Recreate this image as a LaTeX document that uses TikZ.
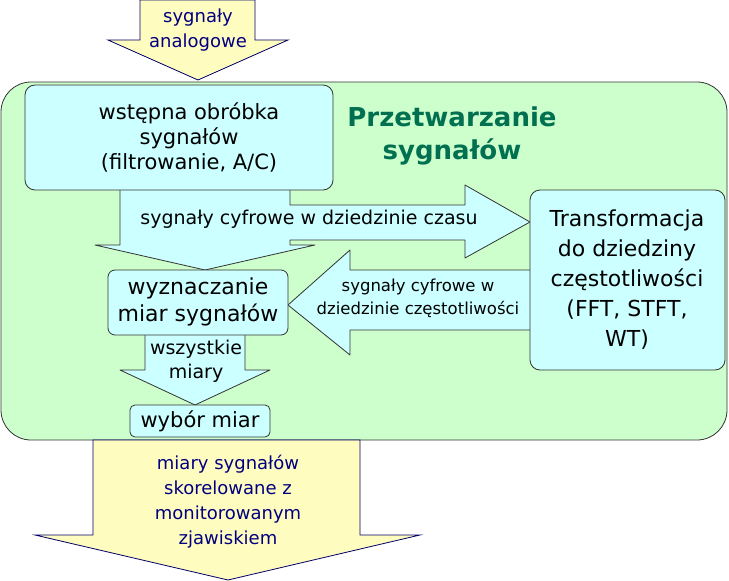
\documentclass[tikz,border=0pt]{standalone}
\usepackage{fontspec}
\setmainfont{DejaVu Sans}
\begin{document}
\begin{tikzpicture}[x=1pt,y=-1pt,
  box/.style={draw=black!80,fill=cyanf,rounded corners=10pt,line width=0.8pt},
  arr/.style={draw=black!80,fill=cyanf,line width=0.8pt,line join=round},
  yarr/.style={draw=blue!40!black,fill=yellow!25,line width=0.8pt},
  txt/.style={align=center,font=\fontsize{21}{25}\selectfont},
  btxt/.style={align=center,font=\fontsize{18}{25}\selectfont,text=blue!50!black},
  stxt/.style={align=center,font=\fontsize{19}{24}\selectfont}]
\definecolor{bg}{HTML}{CCFFCC}
\definecolor{cyanf}{HTML}{CCFFFF}
\definecolor{ttl}{HTML}{007050}
\useasboundingbox (0,0) rectangle (729,581);
% green panel
\draw[fill=bg,draw=black!80,line width=0.8pt,rounded corners=30pt] (1,82) rectangle (727,440);
% top arrow
\draw[yarr] (140,0)--(255,0)--(255,40)--(288,40)--(198,80)--(108,40)--(140,40)--cycle;
\node[btxt] (ta) at (198,30) {sygnały\\analogowe};
% bottom arrow
\draw[yarr] (93,440)--(360,440)--(360,535)--(420,535)--(228,580)--(35,535)--(93,535)--cycle;
\node[btxt] (ba) at (228,502) {miary sygnałów\\skorelowane z\\monitorowanym\\zjawiskiem};
% composite arrow
\draw[arr] (120,185)--(290,185)--(290,205)--(465,205)--(465,185)--(530,222)--(465,258)--(465,240)--(290,240)--(290,245)--(315,245)--(205,270)--(95,245)--(120,245)--cycle;
\node[stxt] (ct) at (309,219) {sygnały cyfrowe w dziedzinie czasu};
% left arrow
\draw[arr] (535,270)--(350,270)--(350,250)--(288,305)--(350,355)--(350,330)--(535,330)--cycle;
\node[align=center,font=\fontsize{16.5}{23}\selectfont] (ft) at (418,298) {sygnały cyfrowe w\\dziedzinie częstotliwości};
% down arrow
\draw[arr] (145,330)--(245,330)--(245,370)--(270,370)--(195,405)--(120,370)--(145,370)--cycle;
\node[stxt] (wm) at (196,361) {wszystkie\\miary};
% boxes
\draw[box] (25,85) rectangle (333,190);
\node[txt] (b1) at (189,137) {wstępna obróbka\\sygnałów\\(filtrowanie, A/C)};
\node[align=center,font=\fontsize{26}{33}\selectfont\bfseries,text=ttl] (title) at (452,136) {Przetwarzanie\\sygnałów};
\draw[box] (530,190) rectangle (725,370);
\node[align=center,font=\fontsize{22}{30}\selectfont] (tr) at (627,280) {Transformacja\\do dziedziny\\częstotliwości\\(FFT, STFT,\\WT)};
\draw[box,rounded corners=7pt] (108,270) rectangle (288,335);
\node[align=center,font=\fontsize{22}{27}\selectfont] (wz) at (198,302) {wyznaczanie\\miar sygnałów};
\draw[box,rounded corners=5pt] (130,405) rectangle (270,437);
\node[txt] (wb) at (200,421) {wybór miar};
\end{tikzpicture}
\end{document}
